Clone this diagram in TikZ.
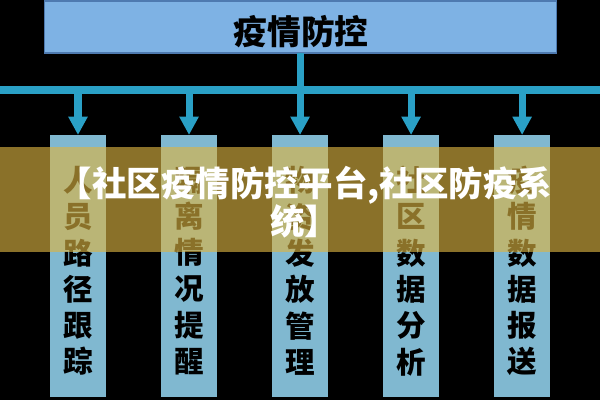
\documentclass[tikz,border=0pt]{standalone}
\usepackage{fontspec}
\usepackage{tikz}
\usetikzlibrary{positioning,arrows.meta}
\newfontfamily\cjk{Noto Sans CJK SC}[BoldFont={Noto Sans CJK SC Black}]
\definecolor{topblue}{RGB}{126,178,228}
\definecolor{topedge}{RGB}{78,122,176}
\definecolor{linkteal}{RGB}{42,160,198}
\definecolor{colblue}{RGB}{128,184,208}
\definecolor{bandgold}{RGB}{220,180,66}

\begin{document}
\begin{tikzpicture}[x=0.025cm, y=-0.025cm, every node/.style={font=\cjk\bfseries}]
  \tikzstyle{col}=[fill=colblue, minimum width=1.4cm, minimum height=6.55cm, inner sep=0pt, outer sep=0pt]
  \tikzstyle{coltext}=[align=center, inner sep=0pt, font=\cjk\bfseries\fontsize{21}{25.8}\selectfont]
  \tikzstyle{link}=[linkteal, line width=5pt]
  \fill[black] (0,0) rectangle (600,400);
  \useasboundingbox (0,0) rectangle (600,400);
  % top box
  \node[draw=topedge, line width=0.8pt, fill=topblue, minimum width=12.775cm, minimum height=1.3cm, outer sep=0pt] (top) at (300.5,27) {};
  \node[inner sep=0pt, font=\cjk\bfseries\fontsize{24}{24}\selectfont] (title) at (301,32) {疫情防控};
  % columns
  \node[col] (b1) at (78,266) {};
  \node[col, right=1.375cm of b1] (b2) {};
  \node[col, right=1.375cm of b2] (b3) {};
  \node[col, right=1.375cm of b3] (b4) {};
  \node[col, right=1.375cm of b4] (b5) {};
  \node[coltext] (t1) at (b1 |- 0,271) {人\\员\\路\\径\\跟\\踪};
  \node[coltext] (t2) at (b2 |- 0,271) {隔\\离\\情\\况\\提\\醒};
  \node[coltext] (t3) at (b3 |- 0,271) {物\\资\\发\\放\\管\\理};
  \node[coltext] (t4) at (b4 |- 0,271) {社\\区\\数\\据\\分\\析};
  \node[coltext] (t5) at (b5 |- 0,271) {疫\\情\\数\\据\\报\\送};
  % connectors
  \coordinate (barL) at (0,90);
  \coordinate (barR) at (600,90);
  \draw[link] (top.south) -- (top.south |- barL);
  \draw[link] (barL) -- (barR);
  \foreach \i in {1,...,5}
    \draw[link, -{Triangle[width=13pt,length=13pt]}] (b\i.north |- barL) -- (b\i.north);
  % banner
  \fill[bandgold, opacity=0.63] (0,147) rectangle (600,252);
  \node[white, align=center, inner sep=0pt, font=\cjk\bfseries\fontsize{24.5}{27}\selectfont] (banner) at (305,202) {【社区疫情防控平台,社区防疫系\\统】};
\end{tikzpicture}
\end{document}
